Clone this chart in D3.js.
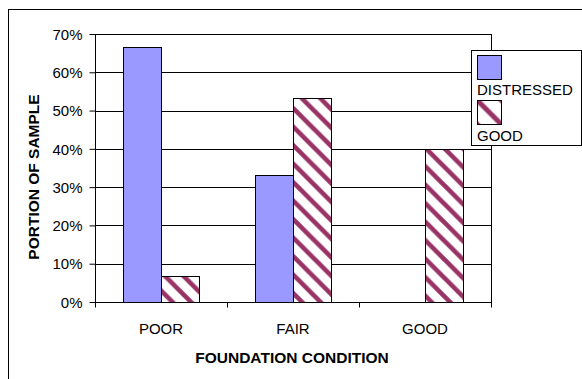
<!DOCTYPE html>
<html><head><meta charset="utf-8">
<script src="https://cdn.jsdelivr.net/npm/d3@7"></script>
<style>body{margin:0;background:#fff}svg{display:block}text{font-family:"Liberation Sans",Arial,sans-serif}</style>
</head><body>
<script>
const categories = ["POOR", "FAIR", "GOOD"];
const seriesNames = ["DISTRESSED", "GOOD"];
const distressed = [0.667, 0.333, 0];
const good = [0.067, 0.533, 0.40];
const yTicks = [0, 0.1, 0.2, 0.3, 0.4, 0.5, 0.6, 0.7];

const W = 582, H = 379;
const svg = d3.select("body").append("svg").attr("width", W).attr("height", H);
const defs = svg.append("defs");
const maroon = "#993366", blue = "#9999FF";

function stripePattern(id, size, sw, x0, y0) {
  const p = defs.append("pattern").attr("id", id).attr("patternUnits", "userSpaceOnUse")
    .attr("width", size).attr("height", size).attr("x", x0).attr("y", y0);
  p.append("rect").attr("width", size).attr("height", size).attr("fill", "#fff");
  p.append("path").attr("d", `M${-size},0 L${size},${2*size} M${-size/2},${-size/2} L${size*1.5},${size*1.5} M0,${-size} L${2*size},${size}`)
    .attr("stroke", maroon).attr("stroke-width", sw).attr("fill", "none");
}
stripePattern("hatch", 18.5, 4.6, 0, 0);

const m = {left: 95, top: 34, right: 491, bottom: 302};
const x0 = d3.scaleBand().domain(categories).range([m.left, m.right]).paddingInner(0).paddingOuter(0);
const x1 = d3.scaleBand().domain(seriesNames).range([0, x0.bandwidth()]).paddingInner(0).paddingOuter(0.75);
const y = d3.scaleLinear().domain([0, 0.7]).range([m.bottom, m.top]);

svg.append("rect").attr("x", 8.5).attr("y", 9.5).attr("width", 700).attr("height", 500)
  .attr("fill", "none").attr("stroke", "#000");

svg.append("g").selectAll("line").data(yTicks.filter(d => d > 0)).join("line")
  .attr("x1", m.left).attr("x2", m.right)
  .attr("y1", d => Math.round(y(d)) + 0.5).attr("y2", d => Math.round(y(d)) + 0.5)
  .attr("stroke", "#000");
svg.append("line").attr("x1", m.right + 0.5).attr("x2", m.right + 0.5).attr("y1", m.top).attr("y2", m.bottom)
  .attr("stroke", "#000");

const rows = categories.map((c, i) => ({c, vals: [{s: "DISTRESSED", v: distressed[i]}, {s: "GOOD", v: good[i]}]}));
const g = svg.append("g");
rows.forEach(r => {
  r.vals.forEach(d => {
    if (d.v <= 0) return;
    g.append("rect")
      .attr("x", Math.round(x0(r.c) + x1(d.s)) + 0.5)
      .attr("y", Math.round(y(d.v)) + 0.5)
      .attr("width", Math.round(x1.bandwidth()))
      .attr("height", Math.round(y(0)) - Math.round(y(d.v)))
      .attr("fill", d.s === "DISTRESSED" ? blue : "url(#hatch)")
      .attr("stroke", "#000").attr("stroke-width", 1);
  });
});

const yAxis = svg.append("g").attr("transform", `translate(${m.left + 0.5},0)`)
  .call(d3.axisLeft(y).tickValues(yTicks).tickFormat(d3.format(".0%")).tickSize(6).tickPadding(7));
yAxis.select(".domain").attr("d", `M0,${m.top}V${m.bottom + 0.5}`).attr("stroke", "#000");
yAxis.selectAll(".tick line").attr("stroke", "#000");
yAxis.selectAll("text").attr("font-size", 15).attr("fill", "#000").attr("dy", "0.35em");

const xAxis = svg.append("g").attr("transform", `translate(0,${m.bottom + 0.5})`);
xAxis.append("line").attr("x1", m.left).attr("x2", m.right + 1).attr("stroke", "#000");
xAxis.selectAll("line.tk").data([...categories.map(c => x0(c)), m.right]).join("line")
  .attr("class", "tk").attr("x1", d => Math.round(d) + 0.5).attr("x2", d => Math.round(d) + 0.5)
  .attr("y1", 0).attr("y2", 5).attr("stroke", "#000");
xAxis.selectAll("text").data(categories).join("text")
  .attr("x", d => x0(d) + x0.bandwidth() / 2).attr("y", 31)
  .attr("text-anchor", "middle").attr("font-size", 15).text(d => d);

svg.append("text").attr("x", 292).attr("y", 363).attr("text-anchor", "middle")
  .attr("font-size", 15.5).attr("font-weight", "bold").text("FOUNDATION CONDITION");
svg.append("text").attr("transform", "translate(39,177) rotate(-90)").attr("text-anchor", "middle")
  .attr("font-size", 15.5).attr("font-weight", "bold").text("PORTION OF SAMPLE");

const lg = svg.append("g");
lg.append("rect").attr("x", 471.5).attr("y", 50.5).attr("width", 110).attr("height", 95)
  .attr("fill", "#fff").attr("stroke", "#000");
stripePattern("hatchLeg", 24, 5, 477.5, 100.5);
lg.append("rect").attr("x", 477.5).attr("y", 55.5).attr("width", 24).attr("height", 24)
  .attr("fill", blue).attr("stroke", "#000");
lg.append("text").attr("x", 477).attr("y", 95).attr("font-size", 15).text(seriesNames[0]);
lg.append("rect").attr("x", 477.5).attr("y", 100.5).attr("width", 24).attr("height", 24)
  .attr("fill", "url(#hatchLeg)").attr("stroke", "#000");
lg.append("text").attr("x", 477).attr("y", 141).attr("font-size", 15).text(seriesNames[1]);
</script>
</body></html>
